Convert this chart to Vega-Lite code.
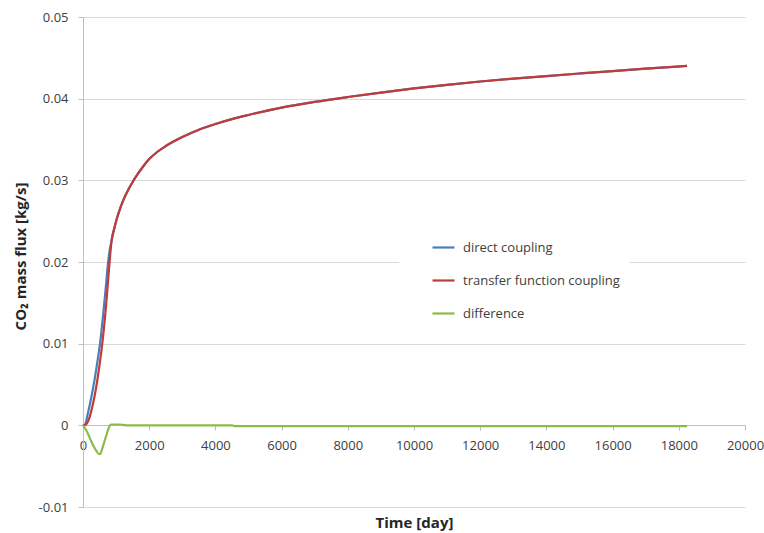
{
  "$schema": "https://vega.github.io/schema/vega-lite/v6.json",
  "width": 662,
  "height": 490,
  "autosize": {"type": "none"},
  "padding": {"left": 83, "top": 17, "right": 19, "bottom": 26},
  "background": "white",
  "config": {"view": {"stroke": null}, "font": "Open Sans"},
  "datasets": {
    "flux": [
      {"t": 0, "v": 0, "s": "direct coupling"},
      {"t": 60, "v": 0.0001, "s": "direct coupling"},
      {"t": 150, "v": 0.0015, "s": "direct coupling"},
      {"t": 250, "v": 0.0034, "s": "direct coupling"},
      {"t": 350, "v": 0.0056, "s": "direct coupling"},
      {"t": 450, "v": 0.0082, "s": "direct coupling"},
      {"t": 514, "v": 0.01, "s": "direct coupling"},
      {"t": 600, "v": 0.0132, "s": "direct coupling"},
      {"t": 700, "v": 0.0174, "s": "direct coupling"},
      {"t": 746, "v": 0.0195, "s": "direct coupling"},
      {"t": 800, "v": 0.0213, "s": "direct coupling"},
      {"t": 867, "v": 0.0227, "s": "direct coupling"},
      {"t": 950, "v": 0.0242, "s": "direct coupling"},
      {"t": 1000, "v": 0.025, "s": "direct coupling"},
      {"t": 1100, "v": 0.0263, "s": "direct coupling"},
      {"t": 1200, "v": 0.0274, "s": "direct coupling"},
      {"t": 1300, "v": 0.0283, "s": "direct coupling"},
      {"t": 1400, "v": 0.0291, "s": "direct coupling"},
      {"t": 1500, "v": 0.0298, "s": "direct coupling"},
      {"t": 1600, "v": 0.03045, "s": "direct coupling"},
      {"t": 1800, "v": 0.0316, "s": "direct coupling"},
      {"t": 2000, "v": 0.0326, "s": "direct coupling"},
      {"t": 2250, "v": 0.0335, "s": "direct coupling"},
      {"t": 2500, "v": 0.0342, "s": "direct coupling"},
      {"t": 3000, "v": 0.0353, "s": "direct coupling"},
      {"t": 3500, "v": 0.0362, "s": "direct coupling"},
      {"t": 4000, "v": 0.0369, "s": "direct coupling"},
      {"t": 4500, "v": 0.0375, "s": "direct coupling"},
      {"t": 5000, "v": 0.038, "s": "direct coupling"},
      {"t": 6000, "v": 0.0389, "s": "direct coupling"},
      {"t": 7000, "v": 0.0396, "s": "direct coupling"},
      {"t": 8000, "v": 0.0402, "s": "direct coupling"},
      {"t": 9000, "v": 0.04075, "s": "direct coupling"},
      {"t": 10000, "v": 0.04125, "s": "direct coupling"},
      {"t": 11000, "v": 0.0417, "s": "direct coupling"},
      {"t": 12000, "v": 0.0421, "s": "direct coupling"},
      {"t": 13000, "v": 0.04245, "s": "direct coupling"},
      {"t": 14000, "v": 0.04277, "s": "direct coupling"},
      {"t": 15000, "v": 0.04308, "s": "direct coupling"},
      {"t": 16000, "v": 0.04338, "s": "direct coupling"},
      {"t": 17000, "v": 0.04367, "s": "direct coupling"},
      {"t": 18250, "v": 0.04402, "s": "direct coupling"},
      {"t": 0, "v": 0, "s": "transfer function coupling"},
      {"t": 90, "v": 0.0001, "s": "transfer function coupling"},
      {"t": 200, "v": 0.001, "s": "transfer function coupling"},
      {"t": 300, "v": 0.0026, "s": "transfer function coupling"},
      {"t": 400, "v": 0.0047, "s": "transfer function coupling"},
      {"t": 500, "v": 0.0074, "s": "transfer function coupling"},
      {"t": 583, "v": 0.01, "s": "transfer function coupling"},
      {"t": 700, "v": 0.0148, "s": "transfer function coupling"},
      {"t": 795, "v": 0.0196, "s": "transfer function coupling"},
      {"t": 867, "v": 0.0227, "s": "transfer function coupling"},
      {"t": 950, "v": 0.0242, "s": "transfer function coupling"},
      {"t": 1000, "v": 0.025, "s": "transfer function coupling"},
      {"t": 1100, "v": 0.0263, "s": "transfer function coupling"},
      {"t": 1200, "v": 0.0274, "s": "transfer function coupling"},
      {"t": 1300, "v": 0.0283, "s": "transfer function coupling"},
      {"t": 1400, "v": 0.0291, "s": "transfer function coupling"},
      {"t": 1500, "v": 0.0298, "s": "transfer function coupling"},
      {"t": 1600, "v": 0.03045, "s": "transfer function coupling"},
      {"t": 1800, "v": 0.0316, "s": "transfer function coupling"},
      {"t": 2000, "v": 0.0326, "s": "transfer function coupling"},
      {"t": 2250, "v": 0.0335, "s": "transfer function coupling"},
      {"t": 2500, "v": 0.0342, "s": "transfer function coupling"},
      {"t": 3000, "v": 0.0353, "s": "transfer function coupling"},
      {"t": 3500, "v": 0.0362, "s": "transfer function coupling"},
      {"t": 4000, "v": 0.0369, "s": "transfer function coupling"},
      {"t": 4500, "v": 0.0375, "s": "transfer function coupling"},
      {"t": 5000, "v": 0.038, "s": "transfer function coupling"},
      {"t": 6000, "v": 0.0389, "s": "transfer function coupling"},
      {"t": 7000, "v": 0.0396, "s": "transfer function coupling"},
      {"t": 8000, "v": 0.0402, "s": "transfer function coupling"},
      {"t": 9000, "v": 0.04075, "s": "transfer function coupling"},
      {"t": 10000, "v": 0.04125, "s": "transfer function coupling"},
      {"t": 11000, "v": 0.0417, "s": "transfer function coupling"},
      {"t": 12000, "v": 0.0421, "s": "transfer function coupling"},
      {"t": 13000, "v": 0.04245, "s": "transfer function coupling"},
      {"t": 14000, "v": 0.04277, "s": "transfer function coupling"},
      {"t": 15000, "v": 0.04308, "s": "transfer function coupling"},
      {"t": 16000, "v": 0.04338, "s": "transfer function coupling"},
      {"t": 17000, "v": 0.04367, "s": "transfer function coupling"},
      {"t": 18250, "v": 0.04402, "s": "transfer function coupling"},
      {"t": 0, "v": 0, "s": "difference"},
      {"t": 100, "v": -0.0006, "s": "difference"},
      {"t": 200, "v": -0.0015, "s": "difference"},
      {"t": 300, "v": -0.0024, "s": "difference"},
      {"t": 400, "v": -0.0031, "s": "difference"},
      {"t": 480, "v": -0.0035, "s": "difference"},
      {"t": 520, "v": -0.0035, "s": "difference"},
      {"t": 600, "v": -0.0026, "s": "difference"},
      {"t": 700, "v": -0.0013, "s": "difference"},
      {"t": 800, "v": -0.0001, "s": "difference"},
      {"t": 840, "v": 0.0001, "s": "difference"},
      {"t": 1100, "v": 0.0001, "s": "difference"},
      {"t": 1300, "v": 0, "s": "difference"},
      {"t": 4500, "v": 0, "s": "difference"},
      {"t": 4600, "v": -0.0001, "s": "difference"},
      {"t": 18250, "v": -0.0001, "s": "difference"}
    ]
  },
  "data": {"name": "flux"},
  "mark": {"type": "line", "strokeWidth": 2.2, "interpolate": "monotone"},
  "encoding": {
    "x": {
      "field": "t",
      "type": "quantitative",
      "scale": {"domain": [0, 20000], "nice": false, "zero": false},
      "axis": {
        "values": [0, 2000, 4000, 6000, 8000, 10000, 12000, 14000, 16000, 18000, 20000],
        "format": "d",
        "offset": -82,
        "grid": false,
        "domainColor": "#BFBFBF",
        "tickColor": "#BFBFBF",
        "tickSize": 5,
        "labelPadding": 9,
        "labelFont": "Open Sans",
        "labelFontSize": 13,
        "labelColor": "#404040",
        "labelFlush": false,
        "labelOverlap": false,
        "title": "Time [day]",
        "titleFont": "Open Sans",
        "titleFontSize": 15,
        "titleFontWeight": "bold",
        "titleColor": "#262626",
        "titleY": 102,
        "titleBaseline": "alphabetic"
      }
    },
    "y": {
      "field": "v",
      "type": "quantitative",
      "scale": {"domain": [-0.01, 0.05], "nice": false, "zero": false},
      "axis": {
        "values": [-0.01, 0, 0.01, 0.02, 0.03, 0.04, 0.05],
        "labelExpr": "datum.value == 0 ? '0' : replace(format(datum.value, '.2f'), '\u2212', '-')",
        "grid": true,
        "gridColor": "#D9D9D9",
        "gridWidth": 1.2,
        "domainColor": "#BFBFBF",
        "tickColor": "#BFBFBF",
        "tickSize": 5,
        "labelPadding": 10,
        "labelFont": "Open Sans",
        "labelFontSize": 13,
        "labelColor": "#404040",
        "labelFlush": false,
        "labelOverlap": false,
        "title": "CO₂ mass flux [kg/s]",
        "titleFont": "Open Sans",
        "titleFontSize": 15,
        "titleFontWeight": "bold",
        "titleColor": "#262626",
        "titleX": -58,
        "titleY": 239,
        "titleBaseline": "alphabetic"
      }
    },
    "color": {
      "field": "s",
      "type": "nominal",
      "scale": {
        "domain": ["direct coupling", "transfer function coupling", "difference"],
        "range": ["#4A7EBB", "#C23B3B", "#8DBB48"]
      },
      "legend": {
        "title": null,
        "orient": "none",
        "legendX": 316,
        "legendY": 208,
        "fillColor": "white",
        "padding": 10,
        "symbolType": "stroke",
        "symbolSize": 484,
        "symbolStrokeWidth": 2.2,
        "symbolOffset": 22,
        "labelFont": "Open Sans",
        "labelFontSize": 13,
        "labelColor": "#404040",
        "labelOffset": 7,
        "rowPadding": 13,
        "labelLimit": 400
      }
    }
  }
}
